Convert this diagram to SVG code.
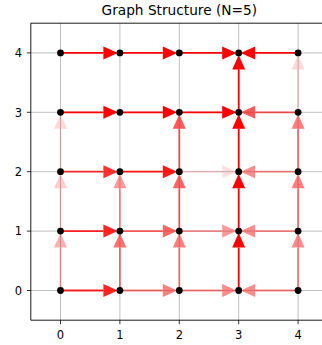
<svg xmlns="http://www.w3.org/2000/svg" width="322" height="345" viewBox="0 0 322 345">
<defs>
<style>
text{font-family:"DejaVu Sans","Liberation Sans",sans-serif;fill:#000}
.title{font-size:13.7px;text-anchor:middle}
.yt{font-size:11.5px;text-anchor:end}
.xt{font-size:11.5px;text-anchor:middle}
.grid line{stroke:#b0b0b0;stroke-width:0.8}
.ticks line{stroke:#000;stroke-width:0.8}
.spine{stroke:#000;stroke-width:0.9;fill:none}
.e line{stroke:#ff0000;stroke-width:1.8;marker-end:url(#ah)}
.n circle{fill:#000}
</style>
<marker id="ah" markerUnits="userSpaceOnUse" orient="auto" refX="0" refY="0" markerWidth="16" markerHeight="14" overflow="visible">
<path d="M0,-6.5 L14.5,0 L0,6.5 Z" fill="#ff0000"/>
</marker>
</defs>
<rect width="322" height="345" fill="#fff"/>
<text class="title" x="179.3" y="14.5">Graph Structure (N=5)</text>
<g class="grid">
<line x1="60.5" y1="23.2" x2="60.5" y2="320.2"/>
<line x1="119.9" y1="23.2" x2="119.9" y2="320.2"/>
<line x1="179.3" y1="23.2" x2="179.3" y2="320.2"/>
<line x1="238.7" y1="23.2" x2="238.7" y2="320.2"/>
<line x1="298.1" y1="23.2" x2="298.1" y2="320.2"/>
<line x1="30.8" y1="290.5" x2="327.8" y2="290.5"/>
<line x1="30.8" y1="231.1" x2="327.8" y2="231.1"/>
<line x1="30.8" y1="171.7" x2="327.8" y2="171.7"/>
<line x1="30.8" y1="112.3" x2="327.8" y2="112.3"/>
<line x1="30.8" y1="52.9" x2="327.8" y2="52.9"/>
</g>
<g id="connectors">
<!-- row 4 -->
<g class="e" opacity="1"><line x1="60.5" y1="52.9" x2="103.4" y2="52.9"/></g>
<g class="e" opacity="1"><line x1="119.9" y1="52.9" x2="162.8" y2="52.9"/></g>
<g class="e" opacity="1"><line x1="179.3" y1="52.9" x2="222.2" y2="52.9"/></g>
<g class="e" opacity="1"><line x1="298.1" y1="52.9" x2="255.2" y2="52.9"/></g>
<!-- row 3 -->
<g class="e" opacity="1"><line x1="60.5" y1="112.3" x2="103.4" y2="112.3"/></g>
<g class="e" opacity="1"><line x1="119.9" y1="112.3" x2="162.8" y2="112.3"/></g>
<g class="e" opacity="1"><line x1="179.3" y1="112.3" x2="222.2" y2="112.3"/></g>
<g class="e" opacity="0.65"><line x1="298.1" y1="112.3" x2="255.2" y2="112.3"/></g>
<!-- row 2 -->
<g class="e" opacity="0.8"><line x1="60.5" y1="171.7" x2="103.4" y2="171.7"/></g>
<g class="e" opacity="0.9"><line x1="119.9" y1="171.7" x2="162.8" y2="171.7"/></g>
<g class="e" opacity="0.12"><line x1="179.3" y1="171.7" x2="222.2" y2="171.7"/></g>
<g class="e" opacity="0.45"><line x1="298.1" y1="171.7" x2="255.2" y2="171.7"/></g>
<!-- row 1 -->
<g class="e" opacity="0.85"><line x1="60.5" y1="231.1" x2="103.4" y2="231.1"/></g>
<g class="e" opacity="0.6"><line x1="119.9" y1="231.1" x2="162.8" y2="231.1"/></g>
<g class="e" opacity="0.4"><line x1="179.3" y1="231.1" x2="222.2" y2="231.1"/></g>
<g class="e" opacity="0.45"><line x1="298.1" y1="231.1" x2="255.2" y2="231.1"/></g>
<!-- row 0 -->
<g class="e" opacity="0.85"><line x1="60.5" y1="290.5" x2="103.4" y2="290.5"/></g>
<g class="e" opacity="0.5"><line x1="119.9" y1="290.5" x2="162.8" y2="290.5"/></g>
<g class="e" opacity="0.45"><line x1="179.3" y1="290.5" x2="222.2" y2="290.5"/></g>
<g class="e" opacity="0.45"><line x1="298.1" y1="290.5" x2="255.2" y2="290.5"/></g>
<!-- col 0 -->
<g class="e" opacity="0.3"><line x1="60.5" y1="290.5" x2="60.5" y2="247.6"/></g>
<g class="e" opacity="0.2"><line x1="60.5" y1="231.1" x2="60.5" y2="188.2"/></g>
<g class="e" opacity="0.15"><line x1="60.5" y1="171.7" x2="60.5" y2="128.8"/></g>
<!-- col 1 -->
<g class="e" opacity="0.55"><line x1="119.9" y1="290.5" x2="119.9" y2="247.6"/></g>
<g class="e" opacity="0.4"><line x1="119.9" y1="231.1" x2="119.9" y2="188.2"/></g>
<!-- col 2 -->
<g class="e" opacity="0.5"><line x1="179.3" y1="290.5" x2="179.3" y2="247.6"/></g>
<g class="e" opacity="0.6"><line x1="179.3" y1="231.1" x2="179.3" y2="188.2"/></g>
<g class="e" opacity="0.65"><line x1="179.3" y1="171.7" x2="179.3" y2="128.8"/></g>
<!-- col 3 -->
<g class="e" opacity="1"><line x1="238.7" y1="290.5" x2="238.7" y2="247.6"/></g>
<g class="e" opacity="1"><line x1="238.7" y1="231.1" x2="238.7" y2="188.2"/></g>
<g class="e" opacity="1"><line x1="238.7" y1="171.7" x2="238.7" y2="128.8"/></g>
<g class="e" opacity="1"><line x1="238.7" y1="112.3" x2="238.7" y2="69.4"/></g>
<!-- col 4 -->
<g class="e" opacity="0.45"><line x1="298.1" y1="290.5" x2="298.1" y2="247.6"/></g>
<g class="e" opacity="0.5"><line x1="298.1" y1="231.1" x2="298.1" y2="188.2"/></g>
<g class="e" opacity="0.5"><line x1="298.1" y1="171.7" x2="298.1" y2="128.8"/></g>
<g class="e" opacity="0.15"><line x1="298.1" y1="112.3" x2="298.1" y2="69.4"/></g>
</g>
<g id="nodes" class="n">
<g id="n0_0"><circle cx="60.5" cy="290.5" r="3.4"/></g>
<g id="n1_0"><circle cx="119.9" cy="290.5" r="3.4"/></g>
<g id="n2_0"><circle cx="179.3" cy="290.5" r="3.4"/></g>
<g id="n3_0"><circle cx="238.7" cy="290.5" r="3.4"/></g>
<g id="n4_0"><circle cx="298.1" cy="290.5" r="3.4"/></g>
<g id="n0_1"><circle cx="60.5" cy="231.1" r="3.4"/></g>
<g id="n1_1"><circle cx="119.9" cy="231.1" r="3.4"/></g>
<g id="n2_1"><circle cx="179.3" cy="231.1" r="3.4"/></g>
<g id="n3_1"><circle cx="238.7" cy="231.1" r="3.4"/></g>
<g id="n4_1"><circle cx="298.1" cy="231.1" r="3.4"/></g>
<g id="n0_2"><circle cx="60.5" cy="171.7" r="3.4"/></g>
<g id="n1_2"><circle cx="119.9" cy="171.7" r="3.4"/></g>
<g id="n2_2"><circle cx="179.3" cy="171.7" r="3.4"/></g>
<g id="n3_2"><circle cx="238.7" cy="171.7" r="3.4"/></g>
<g id="n4_2"><circle cx="298.1" cy="171.7" r="3.4"/></g>
<g id="n0_3"><circle cx="60.5" cy="112.3" r="3.4"/></g>
<g id="n1_3"><circle cx="119.9" cy="112.3" r="3.4"/></g>
<g id="n2_3"><circle cx="179.3" cy="112.3" r="3.4"/></g>
<g id="n3_3"><circle cx="238.7" cy="112.3" r="3.4"/></g>
<g id="n4_3"><circle cx="298.1" cy="112.3" r="3.4"/></g>
<g id="n0_4"><circle cx="60.5" cy="52.9" r="3.4"/></g>
<g id="n1_4"><circle cx="119.9" cy="52.9" r="3.4"/></g>
<g id="n2_4"><circle cx="179.3" cy="52.9" r="3.4"/></g>
<g id="n3_4"><circle cx="238.7" cy="52.9" r="3.4"/></g>
<g id="n4_4"><circle cx="298.1" cy="52.9" r="3.4"/></g>
</g>
<g id="axes">
<path class="spine" d="M30.8,320.2 V23.2 H330 M30.8,320.2 H330"/>
<g class="ticks">
<line x1="26.8" y1="290.5" x2="30.8" y2="290.5"/>
<line x1="26.8" y1="231.1" x2="30.8" y2="231.1"/>
<line x1="26.8" y1="171.7" x2="30.8" y2="171.7"/>
<line x1="26.8" y1="112.3" x2="30.8" y2="112.3"/>
<line x1="26.8" y1="52.9" x2="30.8" y2="52.9"/>
<line x1="60.5" y1="320.2" x2="60.5" y2="324.2"/>
<line x1="119.9" y1="320.2" x2="119.9" y2="324.2"/>
<line x1="179.3" y1="320.2" x2="179.3" y2="324.2"/>
<line x1="238.7" y1="320.2" x2="238.7" y2="324.2"/>
<line x1="298.1" y1="320.2" x2="298.1" y2="324.2"/>
</g>
<text class="yt" x="22" y="294.7">0</text>
<text class="yt" x="22" y="235.3">1</text>
<text class="yt" x="22" y="175.9">2</text>
<text class="yt" x="22" y="116.5">3</text>
<text class="yt" x="22" y="57.1">4</text>
<text class="xt" x="60.5" y="339">0</text>
<text class="xt" x="119.9" y="339">1</text>
<text class="xt" x="179.3" y="339">2</text>
<text class="xt" x="238.7" y="339">3</text>
<text class="xt" x="298.1" y="339">4</text>
</g>
</svg>
